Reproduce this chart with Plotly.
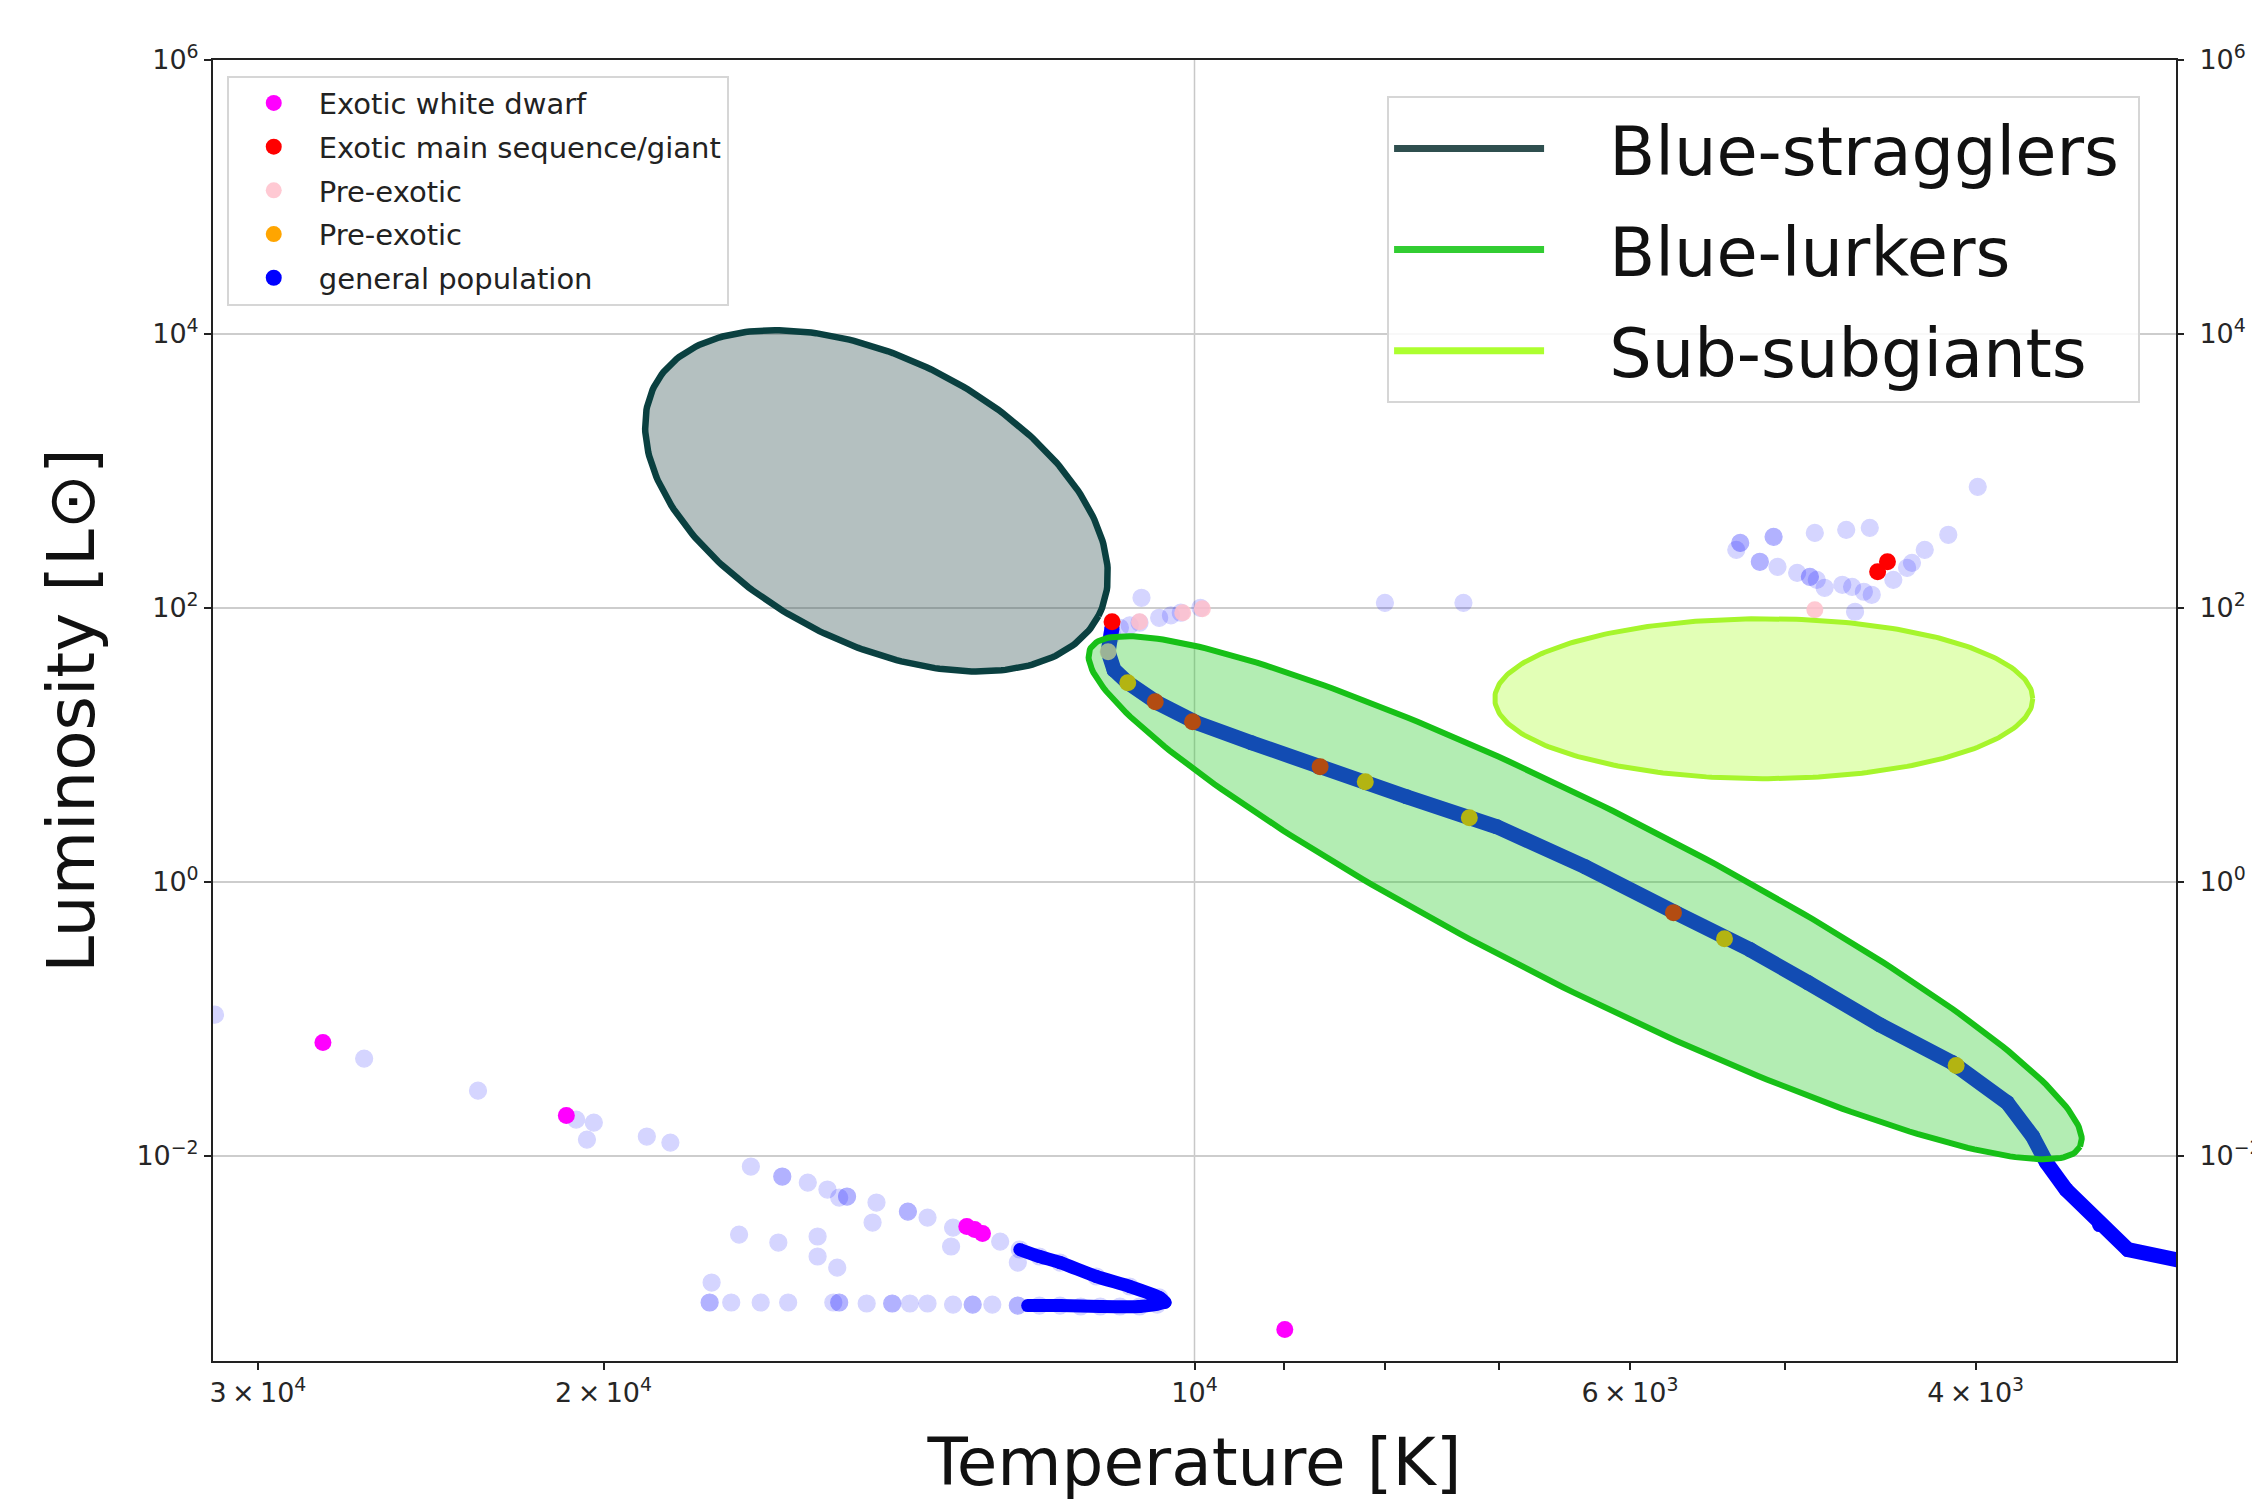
import numpy as np
import plotly.graph_objects as go

# ---------------- data (log10 values) ----------------
# general population: individual (faint) stars
gp_logT = [4.499, 4.423, 4.365, 4.315, 4.306, 4.3095, 4.279, 4.267,
           4.226, 4.210, 4.210, 4.197, 4.187, 4.177, 4.177, 4.162, 4.146, 4.146, 4.136, 4.123,
           4.099, 4.089, 4.079, 4.0685, 4.050, 4.033, 4.018,
           4.247, 4.247, 4.236, 4.221, 4.207, 4.184, 4.181, 4.181, 4.167, 4.154, 4.154, 4.145,
           4.136, 4.123, 4.113, 4.113, 4.103, 4.090, 4.090, 4.079, 4.0685, 4.058, 4.048, 4.038,
           4.028, 4.019,
           4.232, 4.212, 4.192, 4.192, 4.182, 4.164, 4.124, 4.090, 4.246, 4.181,
           4.027, 4.038, 4.028, 4.018, 4.007, 3.997, 4.042, 4.033, 4.012, 3.903, 3.863,
           3.601, 3.616, 3.628, 3.6345, 3.637, 3.644, 3.655, 3.659, 3.665, 3.670,
           3.656, 3.668, 3.684, 3.705, 3.705, 3.722, 3.722, 3.724, 3.712, 3.712,
           3.703, 3.693, 3.6865, 3.6865, 3.683, 3.679, 3.6635]
gp_logL = [-0.971, -1.292, -1.526, -1.737, -1.759, -1.883, -1.861, -1.905,
           -2.080, -2.153, -2.153, -2.197, -2.248, -2.299, -2.299, -2.343, -2.409, -2.409, -2.453, -2.526,
           -2.628, -2.686, -2.737, -2.781, -2.883, -2.956, -3.036,
           -3.073, -3.073, -3.073, -3.073, -3.073, -3.073, -3.073, -3.073, -3.080, -3.080, -3.080, -3.080,
           -3.080, -3.088, -3.088, -3.088, -3.088, -3.095, -3.095, -3.095, -3.095, -3.102, -3.102, -3.102,
           -3.102, -3.088,
           -2.577, -2.635, -2.591, -2.737, -2.818, -2.489, -2.664, -2.781, -2.927, -2.307,
           2.073, 1.854, 1.891, 1.927, 1.964, 2.000, 1.803, 1.872, 1.945, 2.036, 2.036,
           2.883, 2.533, 2.423, 2.328, 2.292, 2.204, 2.095, 2.117, 2.153, 2.168,
           2.584, 2.569, 2.547, 2.518, 2.518, 2.474, 2.474, 2.423, 2.336, 2.336,
           2.299, 2.255, 2.226, 2.226, 2.204, 2.146, 1.971]

# general population: densely populated main-sequence track
track_logT = [4.042, 4.044, 4.041, 4.034, 4.019, 3.999, 3.971, 3.937, 3.892, 3.846,
              3.801, 3.755, 3.717, 3.6875, 3.651, 3.614, 3.586, 3.573, 3.566, 3.556,
              3.539, 3.5245, 3.488]
track_logL = [1.854, 1.679, 1.547, 1.453, 1.307, 1.161, 1.015, 0.839, 0.620, 0.401,
              0.109, -0.226, -0.496, -0.737, -1.044, -1.321, -1.613, -1.861, -2.051, -2.248,
              -2.504, -2.686, -2.796]

# general population: densely populated white-dwarf hook
hook_logT = [4.089, 4.079, 4.0685, 4.050, 4.033, 4.018, 4.015, 4.028, 4.048, 4.0685, 4.085]
hook_logL = [-2.686, -2.737, -2.781, -2.883, -2.956, -3.036, -3.073, -3.102, -3.102, -3.095, -3.095]

wd_logT = [4.444, 4.320, 4.116, 4.112, 4.108, 3.954]
wd_logL = [-1.175, -1.708, -2.518, -2.540, -2.569, -3.270]

ms_logT = [4.042, 4.020, 4.001, 3.936, 3.756, 3.647, 3.652]
ms_logL = [1.898, 1.314, 1.168, 0.839, -0.226, 2.336, 2.263]

pink_logT = [4.028, 4.006, 3.996, 4.044, 3.684]
pink_logL = [1.898, 1.964, 1.993, 1.679, 1.985]

orange_logT = [4.034, 3.913, 3.860, 3.730, 3.612]
orange_logL = [1.453, 0.730, 0.467, -0.416, -1.343]

region_names = ["Blue-stragglers", "Blue-lurkers", "Sub-subgiants"]
region_logT = [4.162, 3.801, 3.710]
region_logL = [2.781, -0.117, 1.336]

x_tickvals = [30000, 20000, 10000, 9000, 8000, 7000, 6000, 5000, 4000]
x_ticktext = ["3\u2009\u00d7\u200910<sup>4</sup>", "2\u2009\u00d7\u200910<sup>4</sup>", "10<sup>4</sup>",
              "", "", "", "6\u2009\u00d7\u200910<sup>3</sup>", "", "4\u2009\u00d7\u200910<sup>3</sup>"]
y_tickvals = [1e-2, 1e0, 1e2, 1e4, 1e6]
y_ticktext = ["10<sup>\u22122</sup>", "10<sup>0</sup>", "10<sup>2</sup>", "10<sup>4</sup>", "10<sup>6</sup>"]

# ---------------- geometry / style ----------------
W, H = 2252, 1506
ML, MR, MT, MB = 213, 76, 60, 145
X_RANGE = [4.5, 3.5]
Y_RANGE = [-3.5, 6.0]
PX_X = (W - ML - MR) / abs(X_RANGE[0] - X_RANGE[1])
PX_Y = (H - MT - MB) / abs(Y_RANGE[1] - Y_RANGE[0])

region_shape = {  # semi-axes in px, tilt in degrees (clockwise on screen)
    "Blue-stragglers": dict(a=250, b=142, ang=27.4, edge="#0a4040", fill="rgba(47,79,79,0.36)",
                            leg="#2f4f4f", lw=6.5),
    "Blue-lurkers": dict(a=554, b=90, ang=26.7, edge="#17c017", fill="rgba(50,205,50,0.37)",
                         leg="#32cd32", lw=6),
    "Sub-subgiants": dict(a=269, b=80, ang=0.0, edge="#a6f52c", fill="rgba(173,255,47,0.35)",
                          leg="#adff2f", lw=5),
}


def ellipse(lt, ll, a, b, ang, n=300):
    t = np.linspace(0, 2 * np.pi, n)
    th = np.radians(ang)
    dx = a * np.cos(t) * np.cos(th) - b * np.sin(t) * np.sin(th)
    dy = a * np.cos(t) * np.sin(th) + b * np.sin(t) * np.cos(th)
    return 10 ** (lt - dx / PX_X), 10 ** (ll - dy / PX_Y)


def p10(v):
    return [10 ** x for x in v]


MS = 17
fig = go.Figure()

# general population
fig.add_trace(go.Scatter(x=p10(gp_logT), y=p10(gp_logL), mode="markers",
                         marker=dict(color="blue", size=MS, opacity=0.16, line=dict(color="blue", width=1.2)),
                         showlegend=False, hoverinfo="skip"))
fig.add_trace(go.Scatter(x=p10(track_logT), y=p10(track_logL), mode="lines+markers",
                         line=dict(color="blue", width=15), marker=dict(color="blue", size=15),
                         showlegend=False, hoverinfo="skip"))
fig.add_trace(go.Scatter(x=p10(hook_logT), y=p10(hook_logL), mode="lines+markers",
                         line=dict(color="blue", width=13, shape="spline", smoothing=0.5),
                         marker=dict(color="blue", size=13),
                         showlegend=False, hoverinfo="skip"))

fig.add_trace(go.Scatter(x=p10(pink_logT), y=p10(pink_logL), mode="markers", name="Pre-exotic",
                         marker=dict(color="pink", size=MS, opacity=0.85),
                         legend="legend", legendgroup="c", legendrank=3))
fig.add_trace(go.Scatter(x=p10(orange_logT), y=p10(orange_logL), mode="markers", name="Pre-exotic",
                         marker=dict(color="orange", size=MS),
                         legend="legend", legendgroup="d", legendrank=4))
fig.add_trace(go.Scatter(x=p10(ms_logT), y=p10(ms_logL), mode="markers", name="Exotic main sequence/giant",
                         marker=dict(color="red", size=MS),
                         legend="legend", legendgroup="b", legendrank=2))
fig.add_trace(go.Scatter(x=p10(wd_logT), y=p10(wd_logL), mode="markers", name="Exotic white dwarf",
                         marker=dict(color="magenta", size=MS),
                         legend="legend", legendgroup="a", legendrank=1))
fig.add_trace(go.Scatter(x=[None], y=[None], mode="markers", name="general population",
                         marker=dict(color="blue", size=MS),
                         legend="legend", legendgroup="e", legendrank=5))

# regions (drawn on top, on overlaying axis)
PAD = "\u2002\u2009\u2009"
for i, name in enumerate(region_names):
    s = region_shape[name]
    ex, ey = ellipse(region_logT[i], region_logL[i], s["a"], s["b"], s["ang"])
    fig.add_trace(go.Scatter(x=ex, y=ey, mode="lines", fill="toself", fillcolor=s["fill"],
                             line=dict(color=s["edge"], width=s["lw"]), yaxis="y2",
                             showlegend=False, hoverinfo="skip"))
    fig.add_trace(go.Scatter(x=[None], y=[None], mode="lines", name=PAD + name + "\u2009", yaxis="y2",
                             line=dict(color=s["leg"], width=7),
                             legend="legend2", legendgroup="r%d" % i, legendrank=i + 1))

tickfont = dict(family="DejaVu Sans", size=27, color="#262626")
fig.update_layout(
    width=W, height=H,
    margin=dict(l=ML, r=MR, t=MT, b=MB, autoexpand=False),
    paper_bgcolor="white", plot_bgcolor="white",
    font=dict(family="DejaVu Sans", color="#111"),
    xaxis=dict(type="log", range=X_RANGE, autorange=False,
               tickvals=x_tickvals, ticktext=x_ticktext, tickfont=tickfont,
               ticks="outside", ticklen=7, tickwidth=1.5, tickcolor="#222",
               showline=True, linecolor="#222", linewidth=2, mirror=True,
               showgrid=False, zeroline=False,
               title=dict(text="Temperature [K]", font=dict(size=66, color="#111"), standoff=31)),
    yaxis=dict(type="log", range=Y_RANGE, autorange=False,
               tickvals=y_tickvals, ticktext=y_ticktext, tickfont=tickfont,
               ticks="outside", ticklen=7, tickwidth=1.5, tickcolor="#222",
               showline=True, linecolor="#222", linewidth=2, mirror=True,
               showgrid=True, gridcolor="#cdcdcd", gridwidth=1.5, zeroline=False,
               title=dict(text="Luminosity [L\u2299]", font=dict(size=66, color="#111"), standoff=20)),
    yaxis2=dict(type="log", range=Y_RANGE, autorange=False, overlaying="y", side="right",
                tickvals=y_tickvals, ticktext=y_ticktext, tickfont=tickfont,
                ticks="outside", ticklen=7, tickwidth=1.5, tickcolor="#222", ticklabelstandoff=10,
                showline=False, showgrid=False, zeroline=False),
    legend=dict(x=0.007, y=0.988, xanchor="left", yanchor="top",
                bgcolor="rgba(255,255,255,0.85)", bordercolor="#d6d6d6", borderwidth=2,
                font=dict(family="DejaVu Sans", size=29, color="#222"),
                traceorder="grouped", tracegroupgap=3, itemwidth=80),
    legend2=dict(x=0.9817, y=0.972, xanchor="right", yanchor="top",
                 bgcolor="rgba(255,255,255,0.85)", bordercolor="#d6d6d6", borderwidth=2,
                 font=dict(family="DejaVu Sans", size=67, color="#111"),
                 traceorder="grouped", tracegroupgap=11, itemwidth=150),
    shapes=[dict(type="line", xref="x", yref="paper", x0=1e4, x1=1e4, y0=0, y1=1,
                 line=dict(color="#c8c8c8", width=1.5), layer="below")],
)

fig.write_html("out.html", config={"displayModeBar": False},
               post_script="document.body.style.margin='0';document.body.style.overflow='hidden';")
